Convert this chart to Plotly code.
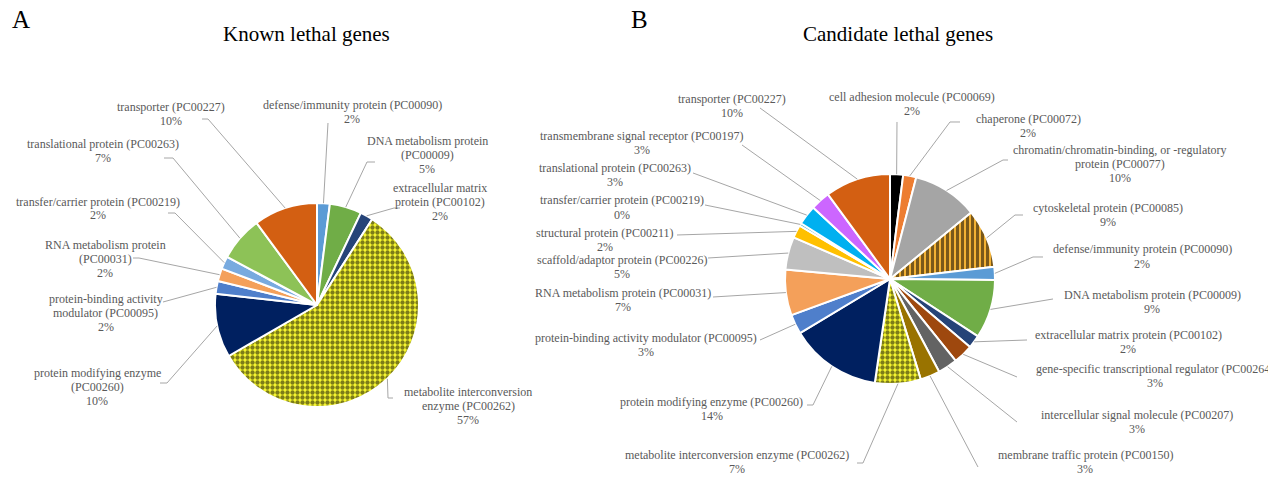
import math
import plotly.graph_objects as go

# ---------------- data ----------------
known_labels = [
    "defense/immunity protein (PC00090)",
    "DNA metabolism protein<br>(PC00009)",
    "extracellular matrix<br>protein (PC00102)",
    "metabolite interconversion<br>enzyme (PC00262)",
    "protein modifying enzyme<br>(PC00260)",
    "protein-binding activity<br>modulator (PC00095)",
    "RNA metabolism protein<br>(PC00031)",
    "transfer/carrier protein (PC00219)",
    "translational protein (PC00263)",
    "transporter (PC00227)",
]
known_values = [2, 5, 2, 57, 10, 2, 2, 2, 7, 10]

cand_labels = [
    "cell adhesion molecule (PC00069)",
    "chaperone (PC00072)",
    "chromatin/chromatin-binding, or -regulatory<br>protein (PC00077)",
    "cytoskeletal protein (PC00085)",
    "defense/immunity protein (PC00090)",
    "DNA metabolism protein (PC00009)",
    "extracellular matrix protein (PC00102)",
    "gene-specific transcriptional regulator (PC00264)",
    "intercellular signal molecule (PC00207)",
    "membrane traffic protein (PC00150)",
    "metabolite interconversion enzyme (PC00262)",
    "protein modifying enzyme (PC00260)",
    "protein-binding activity modulator (PC00095)",
    "RNA metabolism protein (PC00031)",
    "scaffold/adaptor protein (PC00226)",
    "structural protein (PC00211)",
    "transfer/carrier protein (PC00219)",
    "translational protein (PC00263)",
    "transmembrane signal receptor (PC00197)",
    "transporter (PC00227)",
]
cand_values = [2, 2, 10, 9, 2, 9, 2, 3, 3, 3, 7, 14, 3, 7, 5, 2, 0.4, 3, 3, 10]

# ---------------- styles ----------------
known_colors = ["#5B9BD5", "#70AD47", "#264478", "#FAFA30", "#002060",
                "#4F7FCB", "#F4A05A", "#78AADF", "#8DC257", "#D35F12"]
known_shapes = ["", "", "", ".", "", "", "", "", "", ""]

cand_colors = ["#000000", "#ED7D31", "#A5A5A5", "#F2B134", "#5B9BD5",
               "#70AD47", "#264478", "#9E480E", "#636363", "#997300",
               "#FAFA30", "#002060", "#4F7FCB", "#F4A05A", "#BFBFBF",
               "#FFC000", "#4BACC6", "#00B0F0", "#CC66FF", "#D35F12"]
cand_shapes = [""] * 20
cand_shapes[3] = "|"
cand_shapes[10] = "."

W, H = 1268, 477
SERIF = "Liberation Serif, Times New Roman, serif"
LABEL_COLOR = "#595959"
LINE_COLOR = "#A6A6A6"
LH = 14  # label line spacing (px)

# pie geometry (pixels)
LEFT = dict(cx=317, cy=305, r=102)
RIGHT = dict(cx=890, cy=279, r=105)

# label placement (text centre, leader attach point, elbow offset)
known_pos = [
    (352, 111.5, 328, 123, 0),
    (427, 155, 375, 162, -8),
    (440, 202, 400, 208, -6),
    (468, 406, 393, 398, -5),
    (97, 387, 160, 383, 7),
    (106, 313, 163, 302, 0),
    (105, 259, 133, 258, 6),
    (98, 208.5, 168, 213, 7),
    (103, 150.5, 164, 158, 9),
    (171, 113.5, 202, 119, 6),
]
cand_pos = [
    (912, 103.5, 897, 122, 0),
    (1028, 125.5, 960, 122, -10),
    (1120, 164, 1008, 160, -5),
    (1108, 215, 1023, 215, -8),
    (1142, 256.5, 1043, 257, -10),
    (1152, 302, 1053, 299, 0),
    (1128, 342, 1027, 340, 0),
    (1155, 375.5, 1017, 377, 0),
    (1137, 422, 1017, 422, 0),
    (1085, 461.5, 978, 467, 0),
    (737, 461.5, 857, 463, 6),
    (712, 408.5, 807, 405, 6),
    (646, 345, 760, 340, 0),
    (623, 299.5, 713, 297, 0),
    (622, 266.5, 708, 258, 0),
    (605, 240, 677, 235, 0),
    (622, 207.5, 705, 205, 0),
    (615, 175, 693, 173, 0),
    (642, 143, 742, 145, 0),
    (732, 105.5, 760, 108, 0),
]


def px(x):
    return x / W


def py(y):
    return 1 - y / H


def domain(g):
    return dict(x=[px(g["cx"] - g["r"]), px(g["cx"] + g["r"])],
                y=[py(g["cy"] + g["r"]), py(g["cy"] - g["r"])])


def pie(values, colors, shapes, g):
    return go.Pie(
        values=values, labels=[str(i) for i in range(len(values))],
        sort=False, direction="clockwise", rotation=0,
        textinfo="none", hoverinfo="skip", showlegend=False,
        domain=domain(g),
        marker=dict(colors=colors, line=dict(color="#FFFFFF", width=2),
                    pattern=dict(shape=shapes, fillmode="overlay",
                                 fgcolor="#000000", size=5, solidity=0.6)),
    )


fig = go.Figure([pie(known_values, known_colors, known_shapes, LEFT),
                 pie(cand_values, cand_colors, cand_shapes, RIGHT)])

shapes = []
annotations = []


def add_labels(labels, values, pos, g):
    total = sum(values)
    cum = 0
    for lab, v, (tx, ty, ax, ay, el) in zip(labels, values, pos):
        mid = (cum + v / 2) / total * 2 * math.pi
        cum += v
        sx = g["cx"] + g["r"] * math.sin(mid)
        sy = g["cy"] - g["r"] * math.cos(mid)
        path = "M %f,%f L %f,%f L %f,%f" % (px(sx), py(sy), px(ax + el), py(ay), px(ax), py(ay))
        shapes.append(dict(type="path", xref="paper", yref="paper", path=path,
                           line=dict(color=LINE_COLOR, width=1)))
        lines = lab.split("<br>") + ["%d%%" % round(v)]
        n = len(lines)
        for i, t in enumerate(lines):
            yy = ty + (i - (n - 1) / 2) * LH
            annotations.append(dict(
                x=px(tx), y=py(yy), xref="paper", yref="paper", showarrow=False,
                xanchor="center", yanchor="middle", align="center", text=t,
                font=dict(family=SERIF, size=12, color=LABEL_COLOR)))


add_labels(known_labels, known_values, known_pos, LEFT)
add_labels(cand_labels, cand_values, cand_pos, RIGHT)

for txt, x, y, size in [("A", 21, 19, 25), ("B", 639, 19, 25),
                        ("Known lethal genes", 306, 34, 21),
                        ("Candidate lethal genes", 898, 34, 21)]:
    annotations.append(dict(x=px(x), y=py(y), xref="paper", yref="paper",
                            showarrow=False, xanchor="center", yanchor="middle",
                            text=txt, font=dict(family=SERIF, size=size, color="#000000")))

fig.update_layout(
    width=W, height=H, margin=dict(l=0, r=0, t=0, b=0),
    paper_bgcolor="#FFFFFF", plot_bgcolor="#FFFFFF",
    shapes=shapes, annotations=annotations,
)

fig.write_html("out.html", config={"displayModeBar": False, "staticPlot": True},
               post_script="document.body.style.margin='0';document.body.style.overflow='hidden';")
